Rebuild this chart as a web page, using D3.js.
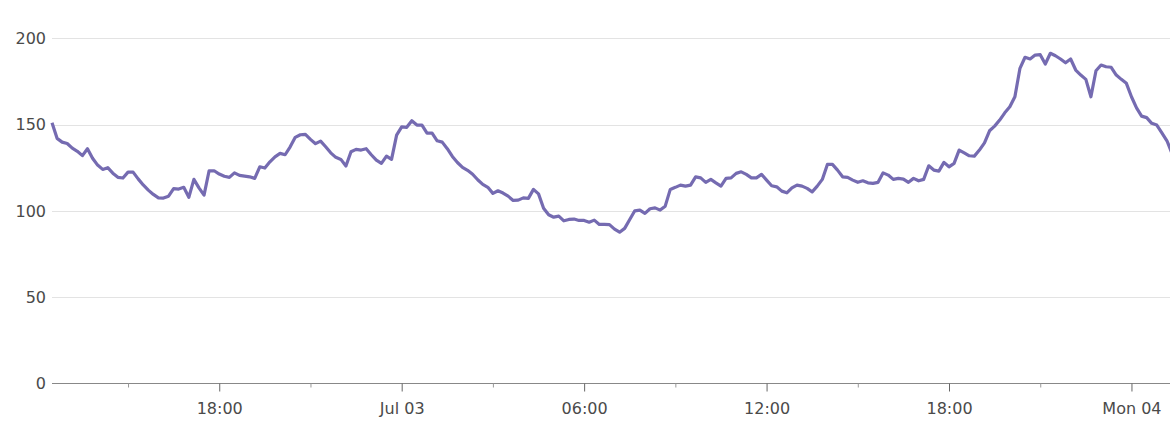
<!DOCTYPE html>
<html>
<head>
<meta charset="utf-8">
<script src="https://cdn.jsdelivr.net/npm/d3@7"></script>
<style>
  html, body { margin: 0; padding: 0; background: #fff; }
  svg { display: block; }
  text { font-family: "DejaVu Sans", sans-serif; }
</style>
</head>
<body>
<svg id="chart" width="1170" height="422"></svg>
<script>
// ---- data (10-minute samples starting 2016-07-02 12:30) ----
const startTime = "2016-07-02T12:30";
const stepMinutes = 10;
const values = [
  151, 142, 139.8, 139, 136.3, 134.5, 132, 136, 130.5, 126.5,
  124, 125, 121.8, 119.4, 119, 122.4, 122.4, 118.5, 115, 112,
  109.5, 107.5, 107.4, 108.5, 112.8, 112.6, 113.6, 107.8, 118.2, 113.3,
  109.1, 123.2, 123.2, 121.3, 120, 119.4, 122, 120.5, 120.1, 119.7,
  118.8, 125.5, 124.8, 128.4, 131.3, 133.3, 132.5, 137.1, 142.6, 144.1,
  144.3, 141.4, 138.9, 140.4, 137.1, 133.6, 131, 129.8, 126, 134.2,
  135.6, 135.2, 136, 132.5, 129.4, 127.5, 131.7, 129.8, 143.9, 148.7,
  148.4, 152.2, 149.7, 149.7, 145, 145, 140.6, 139.8, 136, 131.5,
  128, 125.2, 123.5, 121.2, 118, 115.3, 113.6, 110.1, 111.6, 110.3,
  108.5, 106, 106.2, 107.5, 107.2, 112.4, 109.8, 101.5, 97.7, 96.3,
  96.9, 94.2, 95, 95.2, 94.4, 94.4, 93.4, 94.6, 92.1, 92.1,
  92, 89.4, 87.6, 89.8, 95, 100, 100.4, 98.5, 101.2, 101.7,
  100.4, 102.7, 112.4, 113.6, 114.9, 114.3, 114.9, 119.7, 119.1, 116.5,
  118.2, 116.2, 114.3, 118.8, 119.1, 121.7, 122.6, 121.1, 119.1, 119.1,
  121.1, 117.8, 114.5, 113.9, 111.4, 110.4, 113.3, 114.9, 114.3, 113,
  111, 114.3, 118.2, 126.9, 126.9, 123.6, 119.7, 119.4, 117.8, 116.5,
  117.4, 116.2, 115.9, 116.5, 122, 120.7, 118.2, 118.8, 118.4, 116.5,
  118.8, 117.4, 118.2, 126.1, 123.6, 123, 128.1, 125.5, 127.5, 135.2,
  133.6, 131.9, 131.7, 135.2, 139.4, 146.4, 149.1, 152.6, 156.8, 160.3,
  166.1, 182.6, 189, 188, 190.3, 190.5, 185.1, 191.3, 189.9, 188,
  185.8, 188, 181.6, 178.7, 176.2, 166.1, 181.2, 184.5, 183.5, 183.2,
  178.7, 176.2, 173.9, 166.1, 159.7, 154.9, 154, 150.7, 149.7, 145.2,
  140.6, 133.3
];
const xMajorTicks = ["2016-07-02T18:00", "2016-07-03T00:00", "2016-07-03T06:00",
                     "2016-07-03T12:00", "2016-07-03T18:00", "2016-07-04T00:00"];
const xMajorLabels = ["18:00", "Jul 03", "06:00", "12:00", "18:00", "Mon 04"];
const xMinorTicks = ["2016-07-02T15:00", "2016-07-02T21:00", "2016-07-03T03:00",
                     "2016-07-03T09:00", "2016-07-03T15:00", "2016-07-03T21:00"];
const yTicks = [0, 50, 100, 150, 200];

// ---- build ----
(function () {
  const parse = d3.timeParse("%Y-%m-%dT%H:%M");
  const t0 = parse(startTime);
  const data = values.map((v, i) => ({ t: d3.timeMinute.offset(t0, i * stepMinutes), v }));

  const svg = d3.select("#chart");
  const padL = 52, padR = 1172, padT = 38.3, padB = 383.3;

  const x = d3.scaleTime()
    .domain([data[0].t, data[data.length - 1].t])
    .range([padL, padR]);
  const y = d3.scaleLinear().domain([0, 200]).range([padB, padT]);

  // grid lines
  svg.append("g")
    .selectAll("line")
    .data(yTicks.filter(d => d !== 0))
    .join("line")
    .attr("x1", padL).attr("x2", 1170)
    .attr("y1", d => Math.round(y(d)) + 0.5).attr("y2", d => Math.round(y(d)) + 0.5)
    .attr("stroke", "#e3e3e3").attr("stroke-width", 1);

  // y labels
  svg.append("g")
    .selectAll("text")
    .data(yTicks)
    .join("text")
    .attr("x", 46)
    .attr("y", d => y(d))
    .attr("dy", "0.36em")
    .attr("text-anchor", "end")
    .attr("fill", "#4a4a4a")
    .attr("font-size", 16)
    .text(d => d);

  // x axis (major)
  const majorDates = xMajorTicks.map(parse);
  const xAxis = d3.axisBottom(x)
    .tickValues(majorDates)
    .tickFormat((d, i) => xMajorLabels[i])
    .tickSizeInner(8)
    .tickSizeOuter(0)
    .tickPadding(11);
  const gx = svg.append("g")
    .attr("transform", `translate(0,${Math.round(padB) + 0.5})`)
    .call(xAxis);
  gx.select(".domain").attr("stroke", "#888").attr("d", `M${padL},0H1170`);
  gx.selectAll(".tick line").attr("stroke", "#666");
  gx.selectAll(".tick text")
    .attr("fill", "#4a4a4a")
    .attr("font-size", 16)
    .attr("font-family", "DejaVu Sans, sans-serif");

  // minor ticks
  const xMinor = d3.axisBottom(x)
    .tickValues(xMinorTicks.map(parse))
    .tickFormat("")
    .tickSizeInner(4)
    .tickSizeOuter(0);
  const gm = svg.append("g")
    .attr("transform", `translate(0,${Math.round(padB) + 0.5})`)
    .call(xMinor);
  gm.select(".domain").remove();
  gm.selectAll(".tick line").attr("stroke", "#999");

  // line
  const line = d3.line()
    .x(d => x(d.t))
    .y(d => y(d.v));
  svg.append("path")
    .datum(data)
    .attr("fill", "none")
    .attr("stroke", "#756bb1")
    .attr("stroke-width", 3.2)
    .attr("stroke-linejoin", "round")
    .attr("d", line);
})();
</script>
</body>
</html>
